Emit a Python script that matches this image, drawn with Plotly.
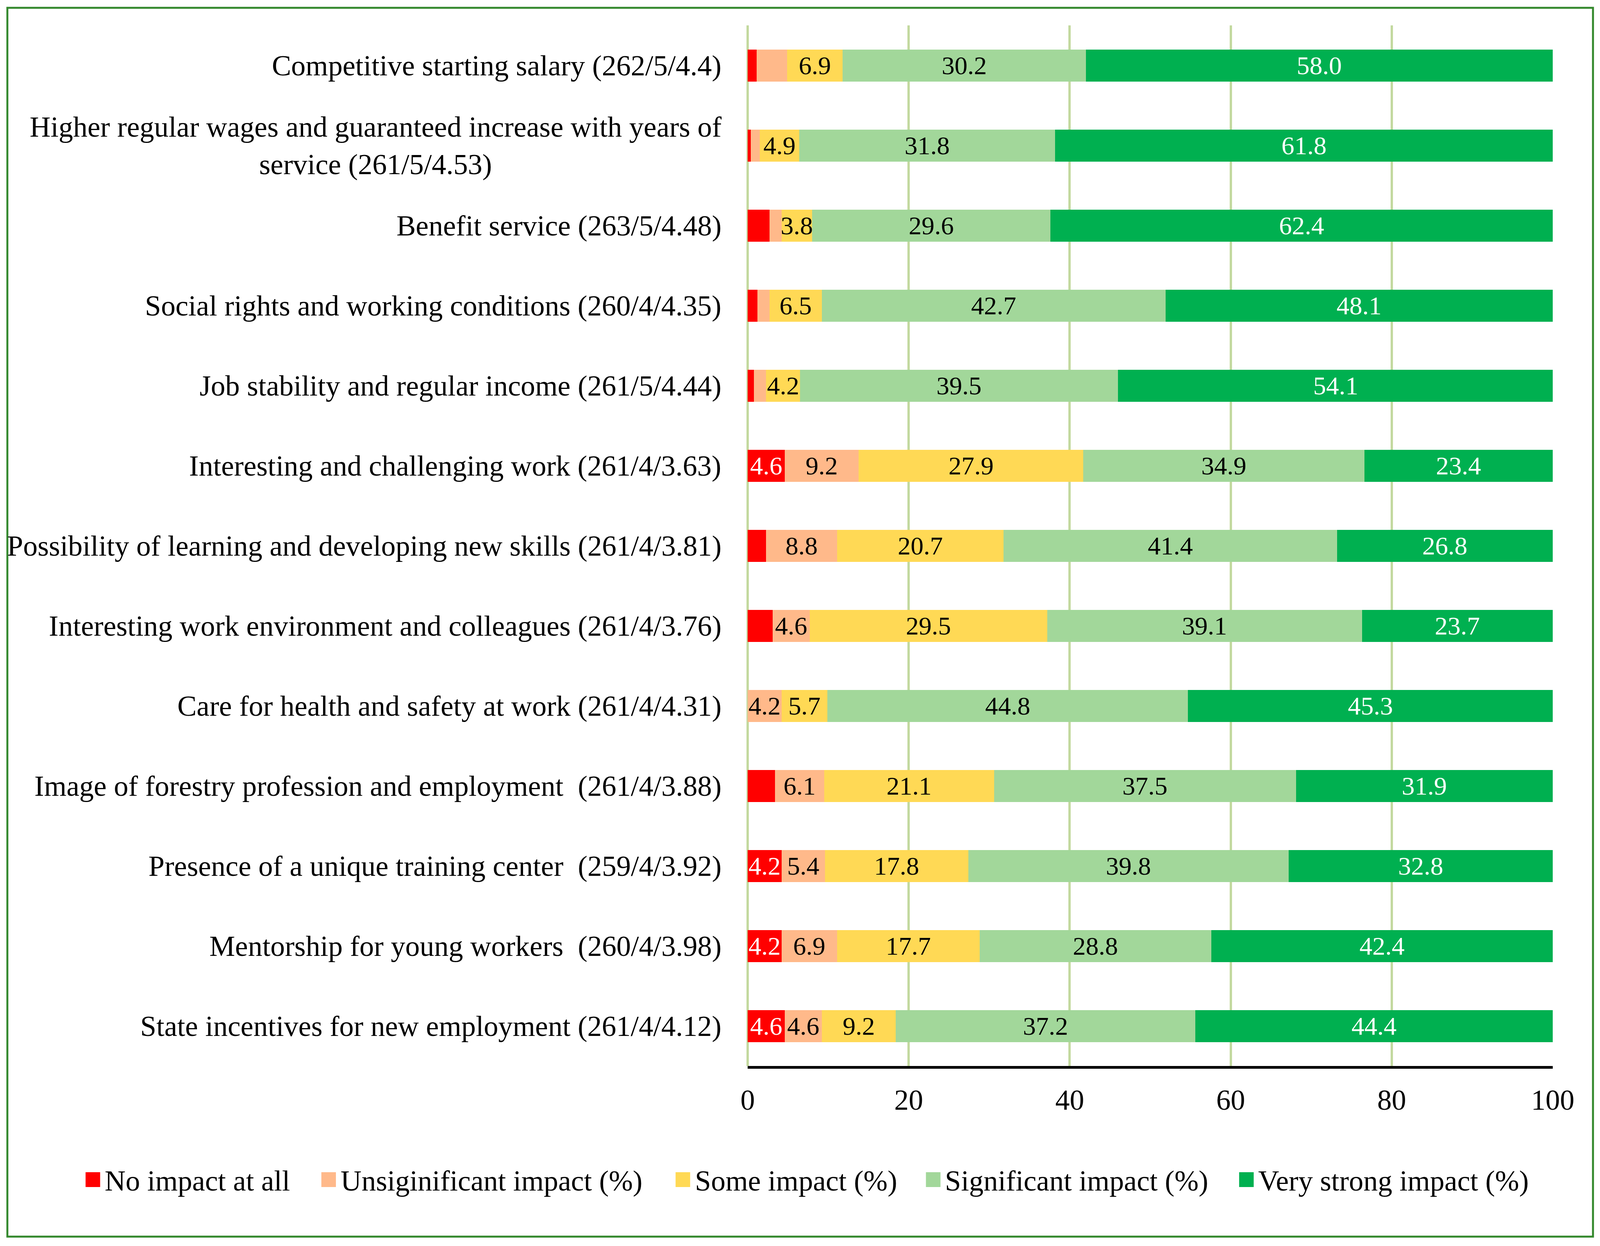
import plotly.graph_objects as go

categories = [
    "Competitive starting salary (262/5/4.4)",
    "Higher regular wages and guaranteed increase with years of<br>service (261/5/4.53)",
    "Benefit service (263/5/4.48)",
    "Social rights and working conditions (260/4/4.35)",
    "Job stability and regular income (261/5/4.44)",
    "Interesting and challenging work (261/4/3.63)",
    "Possibility of learning and developing new skills (261/4/3.81)",
    "Interesting work environment and colleagues (261/4/3.76)",
    "Care for health and safety at work (261/4/4.31)",
    "Image of forestry profession and employment  (261/4/3.88)",
    "Presence of a unique training center  (259/4/3.92)",
    "Mentorship for young workers  (260/4/3.98)",
    "State incentives for new employment (261/4/4.12)",
]

no_impact = [1.1, 0.4, 2.7, 1.2, 0.8, 4.6, 2.3, 3.1, 0.0, 3.4, 4.2, 4.2, 4.6]
unsignificant = [3.8, 1.1, 1.5, 1.5, 1.5, 9.2, 8.8, 4.6, 4.2, 6.1, 5.4, 6.9, 4.6]
some_impact = [6.9, 4.9, 3.8, 6.5, 4.2, 27.9, 20.7, 29.5, 5.7, 21.1, 17.8, 17.7, 9.2]
significant = [30.2, 31.8, 29.6, 42.7, 39.5, 34.9, 41.4, 39.1, 44.8, 37.5, 39.8, 28.8, 37.2]
very_strong = [58.0, 61.8, 62.4, 48.1, 54.1, 23.4, 26.8, 23.7, 45.3, 31.9, 32.8, 42.4, 44.4]

series_names = ["No impact at all", "Unsiginificant impact (%)", "Some impact (%)",
                "Significant impact (%)", "Very strong impact (%)"]
x_ticks = [0, 20, 40, 60, 80, 100]

# styles
colors = ["#FF0000", "#FFB98A", "#FFD955", "#A2D79A", "#00B050"]
text_colors = ["white", "black", "black", "black", "white"]
label_min = [4.0, 4.0, 3.5, 0.0, 0.0]
FONT = "Liberation Serif, Times New Roman, serif"

W, H = 4173, 3191
L, R, T, B = 1950, 123, 65, 461
PW, PH = W - L - R, H - T - B


def px(xp):
    return (xp - L) / PW


def py(yp):
    return (H - B - yp) / PH


fig = go.Figure()
all_series = [no_impact, unsignificant, some_impact, significant, very_strong]
for name, vals, col, tcol, thr in zip(series_names, all_series, colors, text_colors, label_min):
    txt = [f"{v:.1f}" if (v >= thr and v > 0) else "" for v in vals]
    fig.add_trace(go.Bar(
        y=categories, x=vals, name=name, orientation="h",
        marker=dict(color=col, line=dict(width=0)),
        text=txt, textposition="inside", insidetextanchor="middle",
        textangle=0, constraintext="none",
        textfont=dict(family=FONT, size=66, color=tcol),
        hoverinfo="x+name", showlegend=False,
    ))

annotations = []
for c in categories:
    annotations.append(dict(
        x=px(1884), y=c, xref="paper", yref="y", text=c.replace("  ", " \u00a0"),
        showarrow=False, xanchor="right", yanchor="middle", align="center",
        font=dict(family=FONT, size=74, color="black"),
    ))

shapes = []
legend_x = [223, 838, 1762, 2415, 3232]
for lx, name, col in zip(legend_x, series_names, colors):
    shapes.append(dict(type="rect", xref="paper", yref="paper",
                       x0=px(lx), x1=px(lx + 38), y0=py(3040), y1=py(3002),
                       fillcolor=col, line=dict(width=0)))
    annotations.append(dict(
        x=px(lx + 48), y=py(3024), xref="paper", yref="paper", text=name,
        showarrow=False, xanchor="left", yanchor="middle",
        font=dict(family=FONT, size=74, color="black"),
    ))

# outer frame
shapes.append(dict(type="rect", xref="paper", yref="paper",
                   x0=px(19), x1=px(4155), y0=py(3167), y1=py(20),
                   line=dict(color="#33882C", width=5), fillcolor="rgba(0,0,0,0)",
                   layer="below"))

fig.update_layout(
    width=W, height=H,
    margin=dict(l=L, r=R, t=T, b=B, pad=0),
    barmode="stack", bargap=0.6,
    plot_bgcolor="white", paper_bgcolor="white",
    font=dict(family=FONT, size=74, color="black"),
    showlegend=False,
    annotations=annotations, shapes=shapes,
    xaxis=dict(range=[0, 100], tickvals=x_ticks, ticktext=[str(t) for t in x_ticks],
               showgrid=True, gridcolor="#C3D99F", gridwidth=6,
               zeroline=True, zerolinecolor="#C3D99F", zerolinewidth=6,
               showline=True, linecolor="black", linewidth=7,
               ticks="", ticklabelstandoff=16,
               tickfont=dict(family=FONT, size=74, color="black")),
    yaxis=dict(autorange="reversed", showticklabels=False, showgrid=False,
               zeroline=False, showline=False, ticks=""),
)

# fit the figure to the actual browser viewport, keeping proportions of the margins
fit_script = """
document.documentElement.style.margin='0';
document.body.style.margin='0';
document.body.style.overflow='hidden';
document.documentElement.style.overflow='hidden';
var gd = document.getElementById('{plot_id}');
var vw = window.innerWidth, vh = window.innerHeight;
var sx = vw / %d, sy = vh / %d;
gd.style.width = vw + 'px';
gd.style.height = vh + 'px';
return Plotly.relayout(gd, {width: vw, height: vh,
  'margin.l': %d * sx, 'margin.r': %d * sx, 'margin.t': %d * sy, 'margin.b': %d * sy});
""" % (W, H, L, R, T, B)

fig.write_html(
    "out.html",
    config={"displayModeBar": False},
    post_script=fit_script,
)
